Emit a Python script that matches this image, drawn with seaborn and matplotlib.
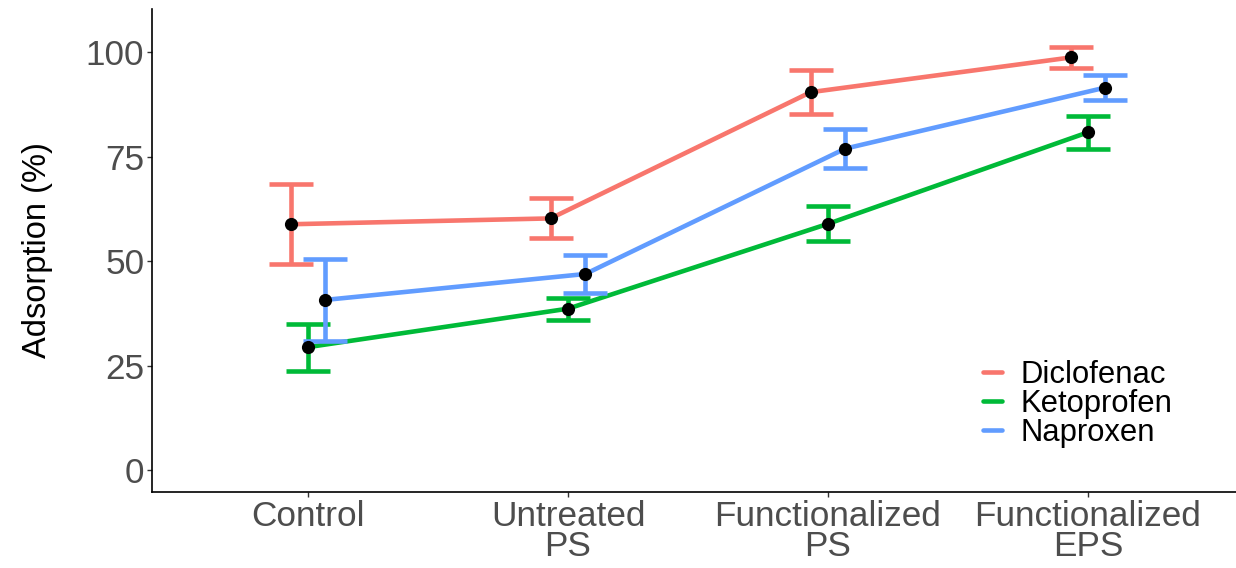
import numpy as np
import pandas as pd
import seaborn as sns
import matplotlib
matplotlib.use("Agg")
import matplotlib.pyplot as plt

# values (mean and sd of adsorption, %)
categories = ["Control", "Untreated\nPS", "Functionalized\nPS", "Functionalized\nEPS"]
drugs = ["Diclofenac", "Ketoprofen", "Naproxen"]
diclofenac_mean = [58.8, 60.2, 90.4, 98.7]
diclofenac_sd = [9.6, 4.8, 5.3, 2.55]
ketoprofen_mean = [29.4, 38.6, 58.9, 80.8]
ketoprofen_sd = [5.6, 2.6, 4.2, 3.95]
naproxen_mean = [40.7, 46.9, 76.9, 91.5]
naproxen_sd = [9.75, 4.55, 4.6, 2.9]
colors = ["#F8766D", "#00BA38", "#619CFF"]

# long table
rows = []
for drug, means, sds in zip(drugs,
                            [diclofenac_mean, ketoprofen_mean, naproxen_mean],
                            [diclofenac_sd, ketoprofen_sd, naproxen_sd]):
    for i, cat in enumerate(categories):
        rows.append({"drug": drug, "treatment": cat, "pos": i,
                     "mean": means[i], "sd": sds[i]})
df = pd.DataFrame(rows)

# dodge like position_dodge(0.2) in ggplot
dodge = 0.2
offsets = {d: (k - (len(drugs) - 1) / 2) * dodge / len(drugs) for k, d in enumerate(drugs)}
df["x"] = df["pos"] + df["drug"].map(offsets)

sns.set_style("ticks")
plt.rcParams["font.family"] = ["Liberation Sans", "DejaVu Sans"]

fig = plt.figure(figsize=(12.36, 5.68), dpi=100)
ax = fig.add_axes([152 / 1236, 1 - 492 / 568, (1244 - 152) / 1236, (492 - 9) / 568])

palette = dict(zip(drugs, colors))
lw = 3.3
sns.lineplot(data=df, x="x", y="mean", hue="drug", palette=palette,
             linewidth=lw, sort=True, ax=ax, legend=True, zorder=2)

for drug in drugs:
    sub = df[df["drug"] == drug]
    ax.errorbar(sub["x"], sub["mean"], yerr=sub["sd"], fmt="none",
                ecolor=palette[drug], elinewidth=lw, capsize=15.5,
                capthick=lw, zorder=3)

sns.scatterplot(data=df, x="x", y="mean", color="black", s=90,
                edgecolor="black", linewidth=0, ax=ax, zorder=4, legend=False)

ax.set_xlim(-0.6, 3.6)
ax.set_ylim(-5.26, 110.3)
ax.set_xticks(range(len(categories)))
ax.set_xticklabels(categories, linespacing=0.9)
ax.set_yticks([0, 25, 50, 75, 100])
ax.set_xlabel("")
ax.set_ylabel("Adsorption (%)", fontsize=23.5, color="black")
ax.yaxis.set_label_coords(-0.0907, 0.5)

ax.tick_params(axis="both", labelsize=25.3, labelcolor="#4D4D4D",
               color="#333333", length=3.5, width=1.0, pad=2)
for side in ["top", "right"]:
    ax.spines[side].set_visible(False)
for side in ["left", "bottom"]:
    ax.spines[side].set_linewidth(1.2)
    ax.spines[side].set_color("black")

handles, labels = ax.get_legend_handles_labels()
leg = ax.legend(handles, labels, loc="center left", frameon=False,
                bbox_to_anchor=(983 / 1236, 1 - 404 / 568), bbox_transform=fig.transFigure,
                fontsize=22.3, handlelength=0.6, handletextpad=0.6, labelspacing=-0.04,
                borderpad=0, borderaxespad=0)
for t in leg.get_texts():
    t.set_color("black")

plt.savefig("out.png", dpi=100)
